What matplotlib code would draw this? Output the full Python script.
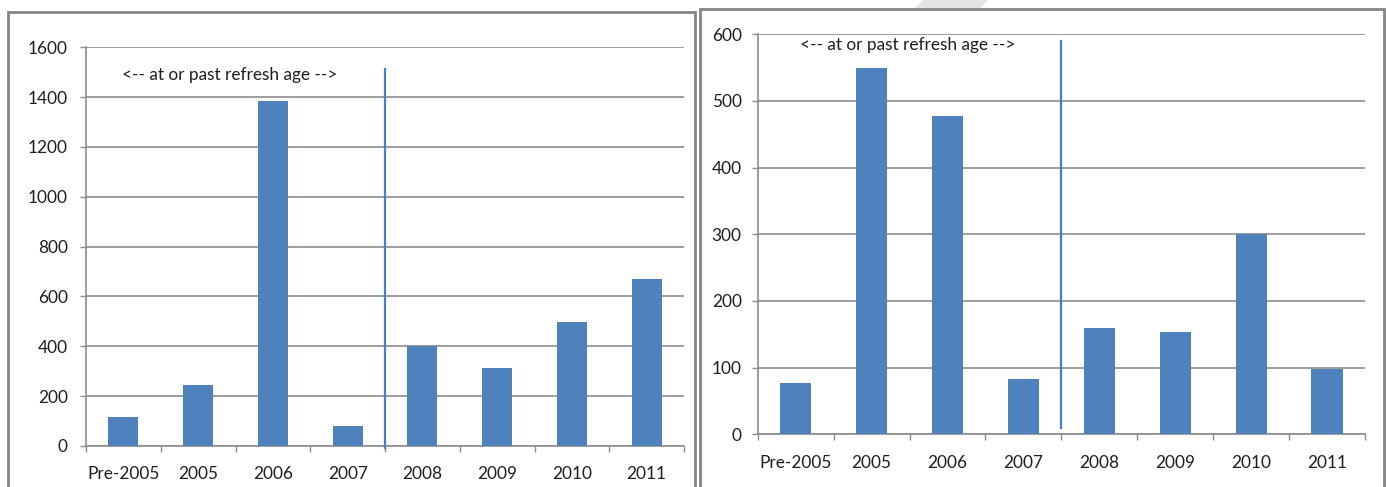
import matplotlib
matplotlib.use("Agg")
import matplotlib.pyplot as plt
from matplotlib.patches import Rectangle, Polygon
import numpy as np

plt.rcParams['font.family'] = ['Lato', 'DejaVu Sans']

# Data
categories = ["Pre-2005", "2005", "2006", "2007", "2008", "2009", "2010", "2011"]
left_values = [117, 246, 1383, 80, 402, 314, 497, 671]
right_values = [77, 550, 478, 83, 160, 154, 300, 98]
left_ticks = [0, 200, 400, 600, 800, 1000, 1200, 1400, 1600]
right_ticks = [0, 100, 200, 300, 400, 500, 600]
note = "<-- at or past refresh age -->"

BAR_COLOR = "#4F81BD"
GRID_COLOR = "#8C8C8C"
AXIS_COLOR = "#8C8C8C"
TEXT_COLOR = "#1E1E1E"
FS = 12.4
PT = 0.72  # points per pixel at 100 dpi

W, H = 1386, 487
fig = plt.figure(figsize=(W / 100, H / 100), dpi=100)


def px_rect(x0, x1, y_top, y_bot):
    """Axes rectangle from pixel edges (top-origin)."""
    return [x0 / W, (H - y_bot) / H, (x1 - x0) / W, (y_bot - y_top) / H]


def draw_panel(ax, values, ticks, ymax, bar_w, divider, div_span, note_xy,
               xpad, ypad):
    x = np.arange(len(categories))
    ax.bar(x, values, width=bar_w, color=BAR_COLOR, zorder=3)
    ax.set_xlim(-0.5, len(categories) - 0.5)
    ax.set_ylim(0, ymax)
    ax.set_yticks(ticks)
    ax.set_yticklabels([str(t) for t in ticks])
    ax.set_xticks(x)
    ax.set_xticklabels(categories)
    ax.set_xticks(np.arange(-0.5, len(categories)), minor=True)
    ax.tick_params(axis='x', which='major', length=0, pad=xpad * PT,
                   labelsize=FS, labelcolor=TEXT_COLOR)
    ax.tick_params(axis='x', which='minor', length=6 * PT, width=1,
                   color=AXIS_COLOR, direction='out')
    ax.tick_params(axis='y', length=6 * PT, width=1, color=AXIS_COLOR,
                   direction='out', pad=ypad * PT, labelsize=FS,
                   labelcolor=TEXT_COLOR)
    for s in ('top', 'right'):
        ax.spines[s].set_visible(False)
    for s in ('left', 'bottom'):
        ax.spines[s].set_color(AXIS_COLOR)
        ax.spines[s].set_linewidth(1.2)
    ax.yaxis.grid(True, color=GRID_COLOR, linewidth=1.2, zorder=0)
    ax.set_axisbelow(True)
    ax.plot([divider, divider], div_span, color="#4A7EC4", linewidth=1.6,
            clip_on=False, zorder=4)
    ax.text(note_xy[0], note_xy[1], note, fontsize=FS, color=TEXT_COLOR,
            ha='left', va='center', zorder=5)


ax1 = fig.add_axes(px_rect(86, 684, 47.3, 446))
draw_panel(ax1, left_values, left_ticks, 1600, 0.40, 3.5, (-8, 1511),
           (-0.02, 1488), xpad=20, ypad=12)

ax2 = fig.add_axes(px_rect(757.7, 1365, 34.3, 434.3))
draw_panel(ax2, right_values, right_ticks, 600, 0.41, 3.5, (10, 590),
           (0.06, 584), xpad=21, ypad=10)

# Chart-area frames around both panels
fig.patches.append(Rectangle((8 / W, -0.05), (695 - 8) / W, (H - 12) / H + 0.05,
                             transform=fig.transFigure, fill=False,
                             edgecolor="#858585", linewidth=2.0))
fig.patches.append(Rectangle((699.5 / W, -0.05), (1384 - 699.5) / W, (H - 8.5) / H + 0.05,
                             transform=fig.transFigure, fill=False,
                             edgecolor="#858585", linewidth=2.0))
# Light grey slanted tab above the right frame
fig.patches.append(Polygon([(923 / W, 1.0), (988 / W, 1.0),
                            (981 / W, (H - 8) / H), (915 / W, (H - 8) / H)],
                           closed=True, transform=fig.transFigure,
                           facecolor="#E4E4E4", edgecolor="none"))

fig.savefig("out.png", dpi=100)
